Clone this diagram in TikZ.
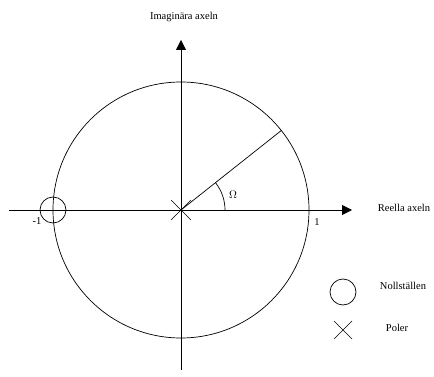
\documentclass[tikz,border=0pt]{standalone}
\usepackage{fontspec}
\setmainfont{Liberation Serif}
\usetikzlibrary{arrows.meta}
\begin{document}
\begin{tikzpicture}[x=1pt,y=-1pt,
  axis/.style={line width=0.8pt,-{Triangle[length=10pt,width=10pt]}},
  thin line/.style={line width=0.7pt},
  lbl/.style={font=\fontsize{10.5}{12}\selectfont,inner sep=0pt}]
\useasboundingbox (0,0) rectangle (434,377);
\coordinate (O) at (181,210);
\coordinate (xs) at (9,210);
\coordinate (xe) at (352,210);
\coordinate (ys) at (181,370);
\coordinate (ye) at (181,40);
\coordinate (P) at (281.3,130.5);
\draw[axis] (xs) -- (xe);
\draw[axis] (ys) -- (ye);
\draw[thin line] (O) circle[radius=128];
\draw[thin line] (O) -- (P);
\draw[thin line] (225,210) arc[start angle=0,end angle=-38.4,radius=44];
\node[lbl] (om) at (233,195) {$\Omega$};
\draw[thin line] (53,210) circle[radius=13];
\draw[thin line] (171,200) -- (191,220) (171,220) -- (191,200);
\node[lbl] (m1) at (37,221) {-1};
\node[lbl] (p1) at (317,222) {1};
\node[lbl] (im) at (184,17) {Imaginära axeln};
\node[lbl] (re) at (404,208) {Reella axeln};
\draw[thin line] (343,292) circle[radius=13];
\draw[thin line] (334,321) -- (352,339) (334,339) -- (352,321);
\node[lbl] (nl) at (403,286) {Nollställen};
\node[lbl] (pl) at (397,328) {Poler};
\end{tikzpicture}
\end{document}
